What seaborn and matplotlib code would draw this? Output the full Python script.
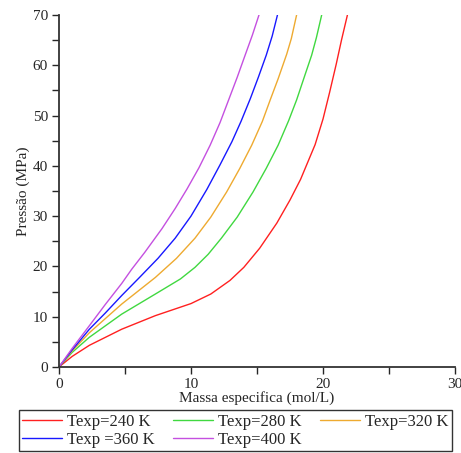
# -*- coding: utf-8 -*-
"""
Pressão vs massa especifica - isotermas
"""

import seaborn as sns
import pandas as pd
import matplotlib.pyplot as plt

# -----------------------------
# Data
# -----------------------------
rho_240 = [0, 1.0, 2.3, 4.75, 7.3, 10.0, 11.5, 12.95, 14.0, 15.2, 16.5, 17.5, 18.3,
           19.4, 20.0, 20.5, 21.0, 21.4, 21.85]
p_240 = [0, 2.1, 4.3, 7.5, 10.2, 12.6, 14.5, 17.2, 19.8, 23.6, 28.6, 33.2, 37.3,
         44.2, 49.3, 54.6, 60.2, 65.0, 70]

rho_280 = [0, 1.0, 2.3, 4.75, 7.3, 9.2, 10.3, 11.3, 12.3, 13.5, 14.7, 15.7, 16.6,
           17.4, 18.0, 18.6, 19.14, 19.5, 19.9]
p_280 = [0, 2.9, 5.9, 10.5, 14.5, 17.5, 19.8, 22.4, 25.6, 29.8, 34.8, 39.5, 44.1,
         49.0, 53.1, 57.8, 62.0, 65.5, 70]

rho_320 = [0, 1.0, 2.3, 4.75, 7.3, 8.9, 10.3, 11.5, 12.7, 13.7, 14.6, 15.4, 16.0,
           16.6, 17.25, 17.6, 18.0]
p_320 = [0, 3.2, 6.8, 12.5, 17.8, 21.6, 25.6, 29.8, 34.8, 39.5, 44.1, 48.8, 53.1,
         57.3, 62.2, 65.3, 70]

rho_360 = [0, 1.0, 2.3, 3.5, 4.75, 6.1, 7.5, 8.8, 10.0, 11.2, 12.2, 13.1, 13.8,
           14.5, 15.1, 15.7, 16.15, 16.55]
p_360 = [0, 3.4, 7.5, 10.7, 14.2, 17.8, 21.6, 25.6, 30.0, 35.3, 40.2, 44.8, 48.9,
         53.4, 57.6, 62.0, 65.8, 70]

rho_400 = [0, 1.0, 2.3, 3.5, 4.75, 5.5, 6.5, 7.8, 8.8, 9.7, 10.6, 11.45, 12.2,
           12.85, 13.5, 14.1, 14.65, 15.15]
p_400 = [0, 3.7, 8.2, 12.4, 16.6, 19.4, 22.8, 27.5, 31.5, 35.4, 39.6, 44.1, 48.6,
         53.1, 57.6, 62.0, 66.0, 70]

labels = ["Texp=240 K", "Texp=280 K", "Texp=320 K", "Texp =360 K", "Texp=400 K"]
colors = ["#ff2020", "#40d840", "#eeaa30", "#1818ff", "#c450e0"]

series = [(rho_240, p_240), (rho_280, p_280), (rho_320, p_320),
          (rho_360, p_360), (rho_400, p_400)]

frames = []
for lab, (r, p) in zip(labels, series):
    frames.append(pd.DataFrame({"rho": r, "P": p, "T": lab}))
df = pd.concat(frames, ignore_index=True)

# -----------------------------
# Plot
# -----------------------------
sns.set_style("ticks")
plt.rcParams["font.family"] = ["Liberation Serif", "DejaVu Serif"]

fig = plt.figure(figsize=(4.61, 4.53), dpi=100)
ax = fig.add_axes([0.128, 0.190, 0.859, 0.777])

sns.lineplot(data=df, x="rho", y="P", hue="T", hue_order=labels,
             palette=colors, sort=False, estimator=None, linewidth=1.0,
             legend=False, ax=ax)

ax.set_xlim(0, 30)
ax.set_ylim(0, 70)
ax.set_xticks([0, 10, 20, 30])
ax.set_xticks([5, 15, 25], minor=True)
ax.set_yticks(range(0, 71, 10))
ax.set_yticks(range(5, 70, 10), minor=True)
ax.tick_params(which="both", direction="out", length=5, width=1.0,
               labelsize=11, pad=3)
for s in ["top", "right"]:
    ax.spines[s].set_visible(False)
for s in ["left", "bottom"]:
    ax.spines[s].set_linewidth(1.3)
    ax.spines[s].set_color("#333333")

ax.set_xlabel("Massa especifica (mol/L)", fontsize=11, labelpad=0)
ax.set_ylabel("Pressão (MPa)", fontsize=11, labelpad=2)

# legend filled row by row (matplotlib fills by column)
handles = [plt.Line2D([], [], color=c, lw=1.0) for c in colors]
order = [0, 3, 1, 4, 2]
leg = fig.legend([handles[i] for i in order], [labels[i] for i in order],
                 ncol=3, loc="lower center",
                 bbox_to_anchor=(0.511, 0.0), fontsize=12,
                 frameon=True, fancybox=False, edgecolor="black",
                 handlelength=2.4, handletextpad=0.3, columnspacing=1.1,
                 labelspacing=0.15, borderpad=0.2, borderaxespad=0.1)
leg.get_frame().set_linewidth(1.0)

plt.savefig("out.png", dpi=100)
plt.close()
